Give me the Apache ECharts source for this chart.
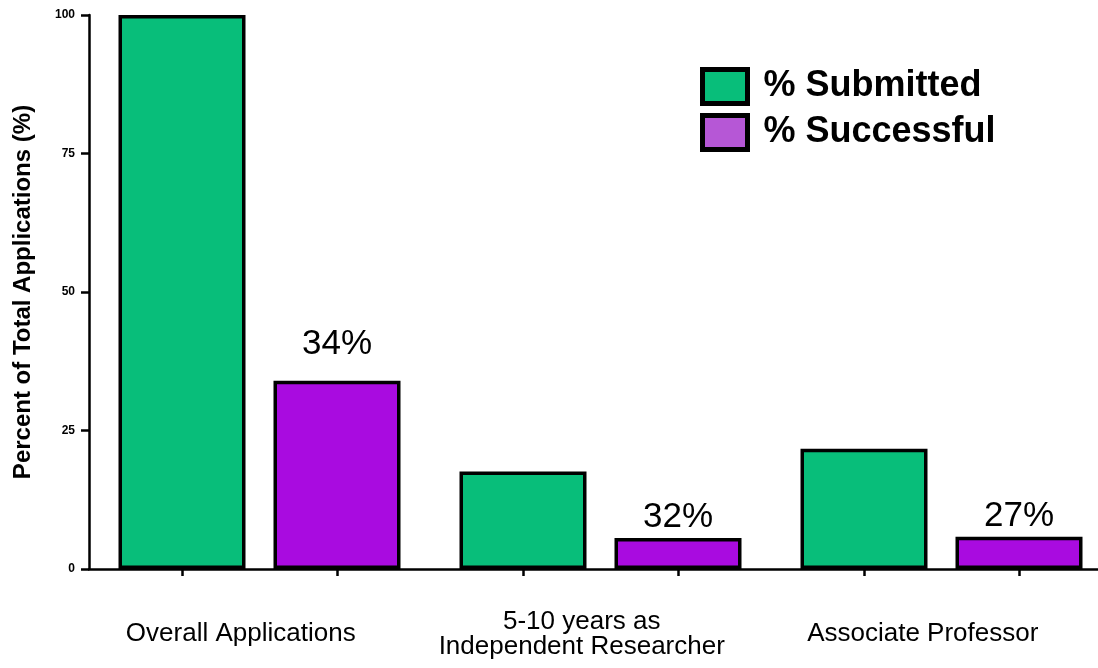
<!DOCTYPE html>
<html>
<head>
<meta charset="utf-8">
<script src="https://cdn.jsdelivr.net/npm/echarts@6/dist/echarts.min.js"></script>
<style>
html,body{margin:0;padding:0;background:#fff;}
#chart{width:1098px;height:668px;}
</style>
</head>
<body>
<div id="chart"></div>
<script>
const categories = ['Overall Applications', '5-10 years as\nIndependent Researcher', 'Associate Professor'];
const submitted = [100, 17.6, 21.7];
const successful = [34.0, 5.6, 5.8];
const successLabels = ['34%', '32%', '27%'];
const yTicks = [0, 25, 50, 75, 100];
const seriesNames = ['% Submitted', '% Successful'];

const FONT = 'Liberation Sans, Arial, Helvetica, sans-serif';
const GRID_LEFT = 89;
const GROUP_PX = 341;            // pixel width of one category group
const barOffset = 77.5 / GROUP_PX;
const labelShift = -0.055;

const subPos = categories.map((c, i) => i + 0.5 - barOffset);
const sucPos = categories.map((c, i) => i + 0.5 + barOffset);
const tickPos = [];
categories.forEach((c, i) => { tickPos.push(subPos[i], sucPos[i]); });
const labelPos = categories.map((c, i) => i + 0.5 + labelShift);

const chart = echarts.init(document.getElementById('chart'), null, {renderer: 'canvas'});
const gridWidth = 1098 - GRID_LEFT;
chart.setOption({
  animation: false,
  backgroundColor: '#fff',
  grid: {left: GRID_LEFT, top: 15, right: 0, bottom: 99, containLabel: false},
  legend: {
    orient: 'vertical',
    left: 695,
    top: 62,
    padding: 5,
    itemWidth: 45,
    itemHeight: 34,
    itemGap: 7,
    icon: 'rect',
    textStyle: {fontFamily: FONT, fontSize: 36, fontWeight: 'bold', color: '#000', lineHeight: 24, padding: [0, 0, 0, 11]},
    data: [
      {name: seriesNames[0], itemStyle: {color: '#08BE7A', borderColor: '#000', borderWidth: 5},
        textStyle: {padding: [0, 0, 10, 11]}},
      {name: seriesNames[1], itemStyle: {color: '#B657D6', borderColor: '#000', borderWidth: 5},
        textStyle: {padding: [8, 0, 0, 11]}}
    ]
  },
  xAxis: {
    type: 'value',
    min: 0,
    max: gridWidth / GROUP_PX,
    splitLine: {show: false},
    axisLine: {show: true, lineStyle: {color: '#000', width: 2.5}},
    axisTick: {show: true, length: 7, lineStyle: {color: '#000', width: 2.5}, customValues: tickPos},
    axisLabel: {
      show: true,
      customValues: labelPos,
      formatter: function (v) {
        const idx = labelPos.findIndex(p => Math.abs(p - v) < 1e-6);
        return idx >= 0 ? categories[idx] : '';
      },
      fontFamily: FONT, fontSize: 26, color: '#000', lineHeight: 25,
      verticalAlign: 'middle', margin: 65, align: 'center'
    }
  },
  yAxis: {
    type: 'value',
    min: 0, max: 100, interval: 25,
    name: 'Percent of Total Applications (%)',
    nameLocation: 'middle',
    nameGap: 54,
    nameTextStyle: {fontFamily: FONT, fontSize: 24, fontWeight: 'bold', color: '#000'},
    splitLine: {show: false},
    axisLine: {show: true, lineStyle: {color: '#000', width: 2.5}},
    axisTick: {show: true, length: 8, lineStyle: {color: '#000', width: 2.5}},
    axisLabel: {fontFamily: FONT, fontSize: 12, fontWeight: 'bold', color: '#000', margin: 14,
      formatter: function (v) { return yTicks.indexOf(v) >= 0 ? String(v) : ''; }}
  },
  series: [
    {
      name: seriesNames[0],
      type: 'bar',
      barWidth: 127,
      barGap: '-100%',
      itemStyle: {color: '#08BE7A', borderColor: '#000', borderWidth: 3.5},
      data: submitted.map((v, i) => [subPos[i], v])
    },
    {
      name: seriesNames[1],
      type: 'bar',
      barWidth: 127,
      barGap: '-100%',
      itemStyle: {color: '#A90BE0', borderColor: '#000', borderWidth: 3.5},
      label: {
        show: true, position: 'top',
        fontFamily: FONT, fontSize: 35, color: '#000',
        formatter: function (p) { return successLabels[p.dataIndex]; }
      },
      data: successful.map((v, i) => ({value: [sucPos[i], v], label: {distance: i === 0 ? 19 : 3}}))
    }
  ]
});
</script>
</body>
</html>
